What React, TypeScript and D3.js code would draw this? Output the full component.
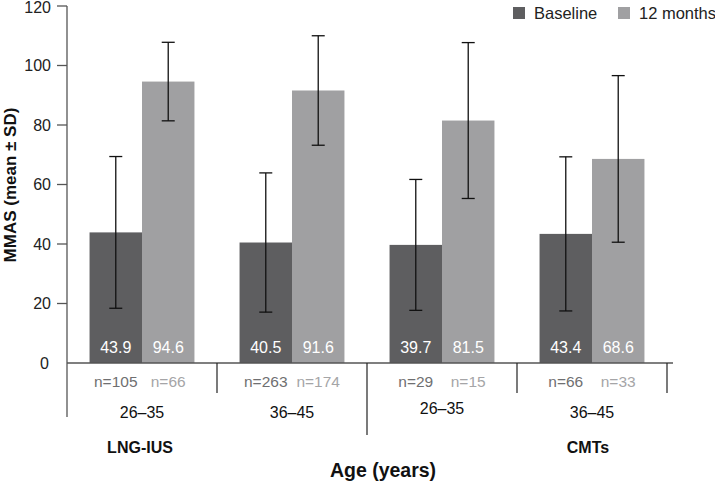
import React from "react";
import * as d3 from "d3";

const groups = ["LNG-IUS 26–35", "LNG-IUS 36–45", "CMTs 26–35", "CMTs 36–45"];
const ageLabels = ["26–35", "36–45", "26–35", "36–45"];
const series = ["Baseline", "12 months"];
const baselineMean = [43.9, 40.5, 39.7, 43.4];
const baselineSD = [25.5, 23.4, 22.0, 25.9];
const monthsMean = [94.6, 91.6, 81.5, 68.6];
const monthsSD = [13.2, 18.4, 26.2, 28.0];
const baselineN = ["n=105", "n=263", "n=29", "n=66"];
const monthsN = ["n=66", "n=174", "n=15", "n=33"];
const yTicks = [0, 20, 40, 60, 80, 100, 120];
const treatments = ["LNG-IUS", "CMTs"];

const colors = ["#5e5e60", "#a0a0a2"];
const nColors = ["#6f6f71", "#a5a5a7"];

export default function App() {
  const W = 715, H = 482;
  const x0 = 67, x1 = 667;
  const y = d3.scaleLinear().domain([0, 120]).range([363, 6]);
  const x = d3.scaleBand().domain(groups).range([x0, x1]).padding(0);
  const xs = d3.scaleBand().domain(series).range([0, x.bandwidth()]).paddingInner(0).paddingOuter(0.43);
  const means = [baselineMean, monthsMean];
  const sds = [baselineSD, monthsSD];
  const ns = [baselineN, monthsN];
  const font = "'Liberation Sans', Arial, sans-serif";
  const capW = 6.5;

  return (
    <svg width={W} height={H} style={{ position: "absolute", left: 0, top: 0, background: "#fff" }} fontFamily={font}>
      {/* bars */}
      {groups.map((g, gi) =>
        series.map((s, si) => {
          const v = means[si][gi];
          const bx = (x(g) as number) + (xs(s) as number);
          const bw = xs.bandwidth();
          const cx = bx + bw / 2;
          const sd = sds[si][gi];
          return (
            <g key={g + s}>
              <rect x={bx} y={y(v)} width={bw} height={y(0) - y(v)} fill={colors[si]} />
              <line x1={cx} x2={cx} y1={y(v + sd)} y2={y(v - sd)} stroke="#111" strokeWidth={1.3} />
              <line x1={cx - capW} x2={cx + capW} y1={y(v + sd)} y2={y(v + sd)} stroke="#111" strokeWidth={1.3} />
              <line x1={cx - capW} x2={cx + capW} y1={y(v - sd)} y2={y(v - sd)} stroke="#111" strokeWidth={1.3} />
              <text x={cx} y={y(0) - 10} textAnchor="middle" fill="#fff" fontSize={16}>{v.toFixed(1)}</text>
              <text x={cx} y={387} textAnchor="middle" fill={nColors[si]} fontSize={15.5}>{ns[si][gi]}</text>
            </g>
          );
        })
      )}
      {/* y axis */}
      <line x1={x0} x2={x0} y1={y(120)} y2={417} stroke="#555" strokeWidth={1.3} />
      {yTicks.map((t) => (
        <g key={t}>
          {t !== 0 && <line x1={x0 - 10} x2={x0} y1={y(t)} y2={y(t)} stroke="#555" strokeWidth={1.3} />}
          <text x={t === 0 ? 49 : 51} y={Math.max(y(t) + 5.5, 13)} textAnchor="end" fontSize={16} fill="#222">{t}</text>
        </g>
      ))}
      {/* x axis */}
      <line x1={x0} x2={673} y1={y(0)} y2={y(0)} stroke="#555" strokeWidth={1.3} />
      {groups.map((g, gi) => {
        const xr = (x(g) as number) + x.bandwidth();
        const len = gi === 1 ? 435 : 393;
        return <line key={g} x1={xr} x2={xr} y1={y(0)} y2={len} stroke="#222" strokeWidth={1.2} />;
      })}
      {groups.map((g, gi) => (
        <text key={g} x={(x(g) as number) + x.bandwidth() / 2} y={gi === 2 ? 414 : 418} textAnchor="middle" fontSize={16} fill="#111">{ageLabels[gi]}</text>
      ))}
      {treatments.map((t, ti) => (
        <text key={t} x={ti === 0 ? 140 : 588} y={453} textAnchor="middle" fontSize={16} fontWeight="bold" fill="#111">{t}</text>
      ))}
      <text x={383} y={477} textAnchor="middle" fontSize={19.5} fontWeight="bold" fill="#111">Age (years)</text>
      <text transform={`translate(16,185) rotate(-90)`} textAnchor="middle" fontSize={17} fontWeight="bold" fill="#111">MMAS (mean ± SD)</text>
      {/* legend */}
      {series.map((s, si) => (
        <g key={s} transform={`translate(${si === 0 ? 513 : 618},0)`}>
          <rect x={0} y={7} width={12} height={12} fill={colors[si]} />
          <text x={21} y={19} fontSize={16.5} fill="#222">{s}</text>
        </g>
      ))}
    </svg>
  );
}
